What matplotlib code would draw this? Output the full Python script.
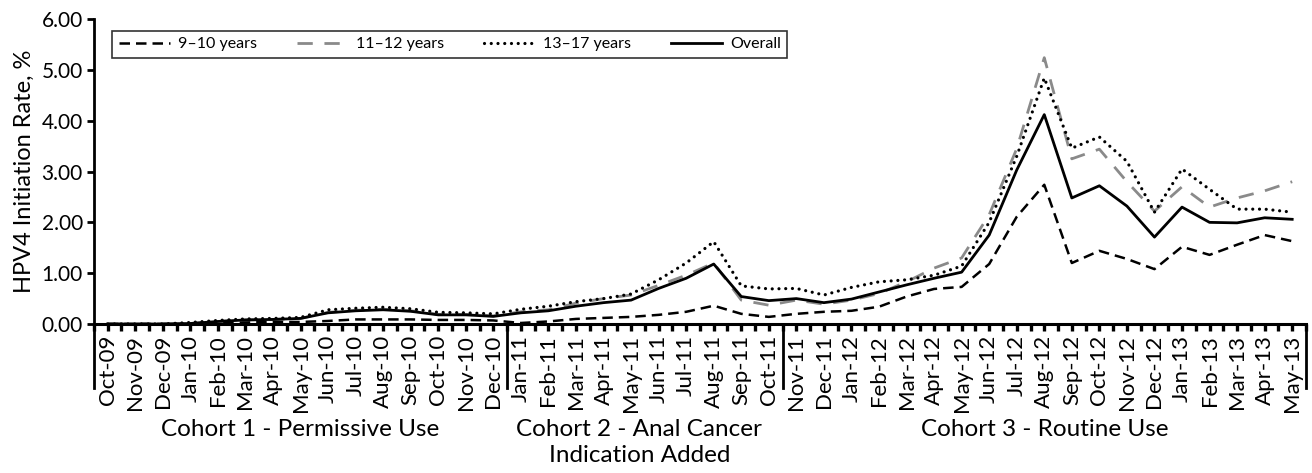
import matplotlib
matplotlib.use("Agg")
import matplotlib.pyplot as plt
import numpy as np

plt.rcParams["font.family"] = ["Lato", "DejaVu Sans"]

# Month labels, Oct-09 .. May-13
months = [
    "Oct-09", "Nov-09", "Dec-09",
    "Jan-10", "Feb-10", "Mar-10", "Apr-10", "May-10", "Jun-10",
    "Jul-10", "Aug-10", "Sep-10", "Oct-10", "Nov-10", "Dec-10",
    "Jan-11", "Feb-11", "Mar-11", "Apr-11", "May-11", "Jun-11",
    "Jul-11", "Aug-11", "Sep-11", "Oct-11", "Nov-11", "Dec-11",
    "Jan-12", "Feb-12", "Mar-12", "Apr-12", "May-12", "Jun-12",
    "Jul-12", "Aug-12", "Sep-12", "Oct-12", "Nov-12", "Dec-12",
    "Jan-13", "Feb-13", "Mar-13", "Apr-13", "May-13",
]

# HPV4 initiation rate, %
age_9_10 = [
    0.00, 0.00, 0.00, 0.00, 0.02, 0.03, 0.04, 0.04, 0.06, 0.09, 0.09, 0.09, 0.08, 0.08, 0.07,
    0.02, 0.05, 0.10, 0.12, 0.14, 0.18, 0.24, 0.36, 0.20, 0.14,
    0.20, 0.24, 0.26, 0.34, 0.54, 0.69, 0.73, 1.18, 2.11, 2.74, 1.20, 1.44, 1.28, 1.08,
    1.52, 1.36, 1.56, 1.75, 1.63,
]
age_11_12 = [
    0.00, 0.00, 0.00, 0.01, 0.05, 0.08, 0.09, 0.11, 0.23, 0.27, 0.29, 0.26, 0.19, 0.19, 0.16,
    0.24, 0.28, 0.41, 0.50, 0.57, 0.76, 0.96, 1.20, 0.47, 0.37,
    0.47, 0.39, 0.47, 0.60, 0.83, 1.10, 1.30, 2.15, 3.45, 5.24, 3.25, 3.44, 2.80, 2.22,
    2.70, 2.30, 2.48, 2.62, 2.80,
]
age_13_17 = [
    0.00, 0.00, 0.00, 0.03, 0.07, 0.10, 0.11, 0.13, 0.28, 0.31, 0.33, 0.30, 0.23, 0.22, 0.20,
    0.29, 0.35, 0.44, 0.50, 0.59, 0.87, 1.20, 1.62, 0.75, 0.69,
    0.70, 0.57, 0.72, 0.83, 0.87, 0.96, 1.14, 2.00, 3.30, 4.84, 3.46, 3.68, 3.20, 2.20,
    3.05, 2.65, 2.26, 2.26, 2.20,
]
overall = [
    0.00, 0.00, 0.00, 0.01, 0.05, 0.08, 0.09, 0.11, 0.22, 0.26, 0.28, 0.25, 0.18, 0.18, 0.15,
    0.22, 0.26, 0.35, 0.42, 0.47, 0.70, 0.90, 1.18, 0.54, 0.46,
    0.50, 0.42, 0.49, 0.63, 0.77, 0.90, 1.02, 1.75, 3.03, 4.12, 2.48, 2.72, 2.32, 1.71,
    2.30, 2.00, 1.99, 2.09, 2.06,
]

# cohort boundaries (index of first month) and names
cohort_starts = [0, 15, 25]
cohort_names = [
    "Cohort 1 - Permissive Use",
    "Cohort 2 - Anal Cancer\nIndication Added",
    "Cohort 3 - Routine Use",
]

x = np.arange(len(months))

fig = plt.figure(figsize=(13.12, 4.73), dpi=100)
ax = fig.add_axes([0.0716, 0.315, 0.9238, 0.6447])

ax.plot(x, age_11_12, color="#8a8a8a", lw=2.0, linestyle=(0, (5.5, 4.2)), label="11\u201312 years", zorder=2)
ax.plot(x, age_9_10, color="black", lw=1.8, linestyle=(0, (4.2, 2.4)), label="9\u201310 years", zorder=3)
ax.plot(x, age_13_17, color="black", lw=2.3, linestyle=(0, (0.01, 2.1)), dash_capstyle="round",
        label="13\u201317 years", zorder=3)
ax.plot(x, overall, color="black", lw=2.0, label="Overall", zorder=4)

ax.set_xlim(-0.5, len(months) - 0.5)
ax.set_ylim(0, 6)

for s in ["top", "right"]:
    ax.spines[s].set_visible(False)
ax.spines["left"].set_linewidth(2)
ax.spines["bottom"].set_linewidth(2.2)

ax.set_yticks(np.arange(0, 7, 1))
ax.set_yticklabels(["%.2f" % v for v in np.arange(0, 7, 1)], fontsize=15)
ax.tick_params(axis="y", direction="out", length=5, width=2, pad=3)

ax.set_xticks(x)
ax.set_xticklabels(months, rotation=90, fontsize=16)
ax.set_xticks(np.arange(-0.5, len(months), 1.0), minor=True)
ax.tick_params(axis="x", which="both", direction="out", length=5, width=2.4, pad=3)

ax.set_ylabel("HPV4 Initiation Rate, %", fontsize=17, labelpad=5)

# vertical separators under the axis
trans = ax.get_xaxis_transform()
for b in [-0.5, 14.5, 24.5, len(months) - 0.5]:
    ax.plot([b, b], [0, -0.21], transform=trans, color="black", lw=2, clip_on=False)

# cohort labels
ends = cohort_starts[1:] + [len(months)]
offsets = [0.0, -0.2, 0.0]
for st, en, name, off in zip(cohort_starts, ends, cohort_names, offsets):
    cx = (st + en - 1) / 2 + off
    ax.text(cx, -0.31, name, transform=trans, ha="center", va="top",
            fontsize=17.5, linespacing=1.35)

# legend in the order of the reference
h, l = ax.get_legend_handles_labels()
order = [1, 0, 2, 3]
leg = ax.legend([h[i] for i in order], [l[i] for i in order], ncol=4,
                loc="upper left", bbox_to_anchor=(0.015, 0.962), borderaxespad=0,
                fontsize=11.5, frameon=True, fancybox=False, edgecolor="black",
                handlelength=3.2, handletextpad=0.5, columnspacing=2.5,
                borderpad=0.4)
leg.get_frame().set_linewidth(1.2)

fig.savefig("out.png", dpi=100)
